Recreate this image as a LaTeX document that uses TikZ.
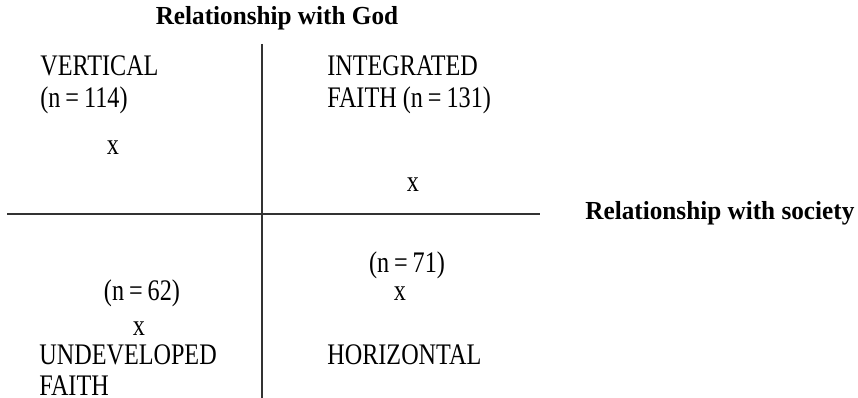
\documentclass[tikz,border=0pt]{standalone}
\usepackage{fontspec}
\setmainfont{Liberation Serif}[FakeStretch=0.81]
\newfontfamily\headfont{Liberation Serif}[FakeStretch=0.97]
\usepackage{tikz}
\usetikzlibrary{positioning, calc}

\begin{document}
\begin{tikzpicture}[
  x=0.02cm, y=-0.02cm,
  axis/.style={line width=0.8pt, draw=black!80},
  heading/.style={inner sep=0pt, anchor=base, font=\headfont\bfseries\fontsize{14.8}{17}\selectfont},
  quadtop/.style={inner sep=0pt, anchor=north west, align=left, font=\fontsize{17}{18.2}\selectfont},
  quadbot/.style={inner sep=0pt, anchor=north west, align=left, font=\fontsize{17}{17.6}\selectfont},
  count/.style={inner sep=0pt, anchor=base, font=\fontsize{17}{18.2}\selectfont},
  xmark/.style={inner sep=0pt, anchor=base, font=\fontsize{17}{18.2}\selectfont}
]
\useasboundingbox (0,0) rectangle (858,398);
\coordinate (godtop) at (262,44);
\coordinate (godbot) at (262,398);
\coordinate (socleft) at (7,214);
\coordinate (socright) at (540,214);
\draw [axis] (godtop) -- (godbot);
\draw [axis] (socleft) -- (socright);
\node (god) [heading] at (277,25) {Relationship with God};
\node (society) [heading, anchor=base west] at (585,220) {Relationship with society};
\node (vertical) [quadtop] at (40,55) {VERTICAL\\(n\,=\,114)};
\node (integrated) [quadtop] at (327,55) {INTEGRATED\\FAITH (n\,=\,131)};
\node (undeveloped) [quadbot] at (39,344) {UNDEVELOPED\\FAITH};
\node (horizontal) [quadbot] at (327,344) {HORIZONTAL};
\node (n71) [count] at (407,273) {(n\,=\,71)};
\node (n62) [count] at (142,300) {(n\,=\,62)};
\node (xvert) [xmark] at (113,155) {x};
\node (xint) [xmark] at (413,192) {x};
\node (xhor) [xmark] at (400,300) {x};
\node (xund) [xmark] at (139,336) {x};
\end{tikzpicture}
\end{document}
